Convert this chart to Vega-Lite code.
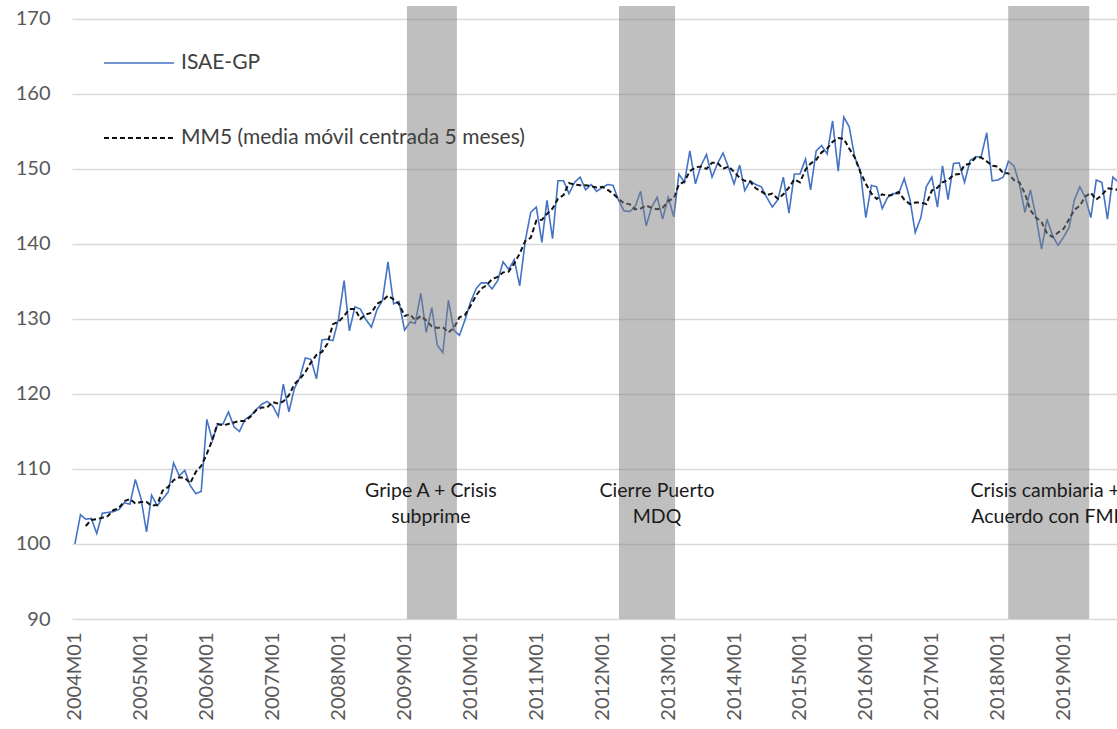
{
  "$schema": "https://vega.github.io/schema/vega-lite/v6.json",
  "width": 1045,
  "height": 613,
  "autosize": {"type": "none"},
  "padding": {"left": 72, "top": 6, "right": 0, "bottom": 110},
  "background": "white",
  "config": {
    "view": {"stroke": null},
    "font": "Lato",
    "axis": {"labelFont": "Lato"},
    "legend": {"labelFont": "Lato"}
  },
  "datasets": {
    "serie": [
      {"m":"2004-01","isae":100.0,"mm5":null},
      {"m":"2004-02","isae":103.9,"mm5":null},
      {"m":"2004-03","isae":103.3,"mm5":102.4},
      {"m":"2004-04","isae":103.4,"mm5":103.2},
      {"m":"2004-05","isae":101.4,"mm5":103.3},
      {"m":"2004-06","isae":104.1,"mm5":103.5},
      {"m":"2004-07","isae":104.2,"mm5":103.7},
      {"m":"2004-08","isae":104.3,"mm5":104.5},
      {"m":"2004-09","isae":104.6,"mm5":104.8},
      {"m":"2004-10","isae":105.5,"mm5":105.7},
      {"m":"2004-11","isae":105.3,"mm5":106.0},
      {"m":"2004-12","isae":108.6,"mm5":105.4},
      {"m":"2005-01","isae":106.1,"mm5":105.6},
      {"m":"2005-02","isae":101.6,"mm5":105.6},
      {"m":"2005-03","isae":106.5,"mm5":105.1},
      {"m":"2005-04","isae":105.1,"mm5":105.2},
      {"m":"2005-05","isae":106.0,"mm5":107.1},
      {"m":"2005-06","isae":106.9,"mm5":107.6},
      {"m":"2005-07","isae":110.8,"mm5":108.5},
      {"m":"2005-08","isae":109.1,"mm5":108.9},
      {"m":"2005-09","isae":109.8,"mm5":108.8},
      {"m":"2005-10","isae":107.8,"mm5":108.1},
      {"m":"2005-11","isae":106.7,"mm5":109.6},
      {"m":"2005-12","isae":107.0,"mm5":110.4},
      {"m":"2006-01","isae":116.6,"mm5":112.0},
      {"m":"2006-02","isae":113.8,"mm5":113.9},
      {"m":"2006-03","isae":115.9,"mm5":116.0},
      {"m":"2006-04","isae":116.0,"mm5":115.8},
      {"m":"2006-05","isae":117.6,"mm5":116.0},
      {"m":"2006-06","isae":115.6,"mm5":116.2},
      {"m":"2006-07","isae":115.0,"mm5":116.4},
      {"m":"2006-08","isae":116.6,"mm5":116.4},
      {"m":"2006-09","isae":117.1,"mm5":117.0},
      {"m":"2006-10","isae":117.9,"mm5":117.8},
      {"m":"2006-11","isae":118.6,"mm5":118.2},
      {"m":"2006-12","isae":119.0,"mm5":118.2},
      {"m":"2007-01","isae":118.4,"mm5":118.9},
      {"m":"2007-02","isae":117.0,"mm5":118.7},
      {"m":"2007-03","isae":121.3,"mm5":119.0},
      {"m":"2007-04","isae":117.6,"mm5":119.8},
      {"m":"2007-05","isae":120.7,"mm5":121.3},
      {"m":"2007-06","isae":122.2,"mm5":122.0},
      {"m":"2007-07","isae":124.8,"mm5":122.9},
      {"m":"2007-08","isae":124.6,"mm5":124.2},
      {"m":"2007-09","isae":122.0,"mm5":125.2},
      {"m":"2007-10","isae":127.2,"mm5":125.6},
      {"m":"2007-11","isae":127.3,"mm5":126.7},
      {"m":"2007-12","isae":127.1,"mm5":129.3},
      {"m":"2008-01","isae":130.0,"mm5":129.6},
      {"m":"2008-02","isae":135.1,"mm5":130.4},
      {"m":"2008-03","isae":128.4,"mm5":131.3},
      {"m":"2008-04","isae":131.6,"mm5":131.3},
      {"m":"2008-05","isae":131.3,"mm5":130.0},
      {"m":"2008-06","isae":129.9,"mm5":130.6},
      {"m":"2008-07","isae":128.9,"mm5":130.8},
      {"m":"2008-08","isae":131.2,"mm5":132.0},
      {"m":"2008-09","isae":132.5,"mm5":132.4},
      {"m":"2008-10","isae":137.6,"mm5":133.1},
      {"m":"2008-11","isae":132.0,"mm5":132.6},
      {"m":"2008-12","isae":132.3,"mm5":132.0},
      {"m":"2009-01","isae":128.5,"mm5":130.4},
      {"m":"2009-02","isae":129.6,"mm5":130.6},
      {"m":"2009-03","isae":129.4,"mm5":129.8},
      {"m":"2009-04","isae":133.4,"mm5":130.4},
      {"m":"2009-05","isae":128.2,"mm5":129.8},
      {"m":"2009-06","isae":131.5,"mm5":129.0},
      {"m":"2009-07","isae":126.5,"mm5":128.8},
      {"m":"2009-08","isae":125.5,"mm5":128.9},
      {"m":"2009-09","isae":132.5,"mm5":128.2},
      {"m":"2009-10","isae":128.5,"mm5":128.8},
      {"m":"2009-11","isae":127.8,"mm5":130.2},
      {"m":"2009-12","isae":129.8,"mm5":130.5},
      {"m":"2010-01","isae":132.2,"mm5":131.7},
      {"m":"2010-02","isae":134.0,"mm5":133.1},
      {"m":"2010-03","isae":134.8,"mm5":134.0},
      {"m":"2010-04","isae":134.8,"mm5":134.5},
      {"m":"2010-05","isae":134.0,"mm5":135.3},
      {"m":"2010-06","isae":135.1,"mm5":135.6},
      {"m":"2010-07","isae":137.6,"mm5":136.2},
      {"m":"2010-08","isae":136.6,"mm5":136.3},
      {"m":"2010-09","isae":137.9,"mm5":137.4},
      {"m":"2010-10","isae":134.4,"mm5":138.7},
      {"m":"2010-11","isae":140.4,"mm5":140.4},
      {"m":"2010-12","isae":144.2,"mm5":140.8},
      {"m":"2011-01","isae":144.9,"mm5":143.1},
      {"m":"2011-02","isae":140.2,"mm5":143.2},
      {"m":"2011-03","isae":145.8,"mm5":144.0},
      {"m":"2011-04","isae":140.7,"mm5":144.7},
      {"m":"2011-05","isae":148.4,"mm5":146.0},
      {"m":"2011-06","isae":148.4,"mm5":146.5},
      {"m":"2011-07","isae":146.7,"mm5":148.1},
      {"m":"2011-08","isae":148.2,"mm5":147.9},
      {"m":"2011-09","isae":148.9,"mm5":147.8},
      {"m":"2011-10","isae":147.2,"mm5":147.8},
      {"m":"2011-11","isae":147.9,"mm5":147.7},
      {"m":"2011-12","isae":147.0,"mm5":147.5},
      {"m":"2012-01","isae":147.5,"mm5":147.6},
      {"m":"2012-02","isae":147.9,"mm5":147.2},
      {"m":"2012-03","isae":147.8,"mm5":146.7},
      {"m":"2012-04","isae":145.8,"mm5":146.0},
      {"m":"2012-05","isae":144.4,"mm5":145.4},
      {"m":"2012-06","isae":144.3,"mm5":145.3},
      {"m":"2012-07","isae":144.9,"mm5":144.6},
      {"m":"2012-08","isae":147.0,"mm5":144.7},
      {"m":"2012-09","isae":142.4,"mm5":145.1},
      {"m":"2012-10","isae":144.9,"mm5":144.8},
      {"m":"2012-11","isae":146.2,"mm5":144.6},
      {"m":"2012-12","isae":143.3,"mm5":144.8},
      {"m":"2013-01","isae":146.2,"mm5":145.7},
      {"m":"2013-02","isae":143.6,"mm5":146.1},
      {"m":"2013-03","isae":149.3,"mm5":147.9},
      {"m":"2013-04","isae":148.2,"mm5":148.3},
      {"m":"2013-05","isae":152.4,"mm5":149.7},
      {"m":"2013-06","isae":148.0,"mm5":150.2},
      {"m":"2013-07","isae":150.4,"mm5":150.3},
      {"m":"2013-08","isae":151.9,"mm5":150.0},
      {"m":"2013-09","isae":148.9,"mm5":150.8},
      {"m":"2013-10","isae":150.7,"mm5":150.8},
      {"m":"2013-11","isae":152.1,"mm5":150.0},
      {"m":"2013-12","isae":150.2,"mm5":150.3},
      {"m":"2014-01","isae":148.0,"mm5":149.6},
      {"m":"2014-02","isae":150.5,"mm5":148.8},
      {"m":"2014-03","isae":147.1,"mm5":148.4},
      {"m":"2014-04","isae":148.4,"mm5":148.3},
      {"m":"2014-05","isae":147.9,"mm5":147.4},
      {"m":"2014-06","isae":147.6,"mm5":147.0},
      {"m":"2014-07","isae":146.2,"mm5":146.5},
      {"m":"2014-08","isae":144.9,"mm5":146.7},
      {"m":"2014-09","isae":145.9,"mm5":146.0},
      {"m":"2014-10","isae":148.9,"mm5":146.6},
      {"m":"2014-11","isae":144.1,"mm5":147.5},
      {"m":"2014-12","isae":149.3,"mm5":148.6},
      {"m":"2015-01","isae":149.3,"mm5":148.2},
      {"m":"2015-02","isae":151.3,"mm5":149.9},
      {"m":"2015-03","isae":147.2,"mm5":150.7},
      {"m":"2015-04","isae":152.4,"mm5":151.2},
      {"m":"2015-05","isae":153.1,"mm5":152.2},
      {"m":"2015-06","isae":152.0,"mm5":152.7},
      {"m":"2015-07","isae":156.4,"mm5":153.6},
      {"m":"2015-08","isae":149.7,"mm5":154.1},
      {"m":"2015-09","isae":156.9,"mm5":154.0},
      {"m":"2015-10","isae":155.6,"mm5":152.7},
      {"m":"2015-11","isae":151.5,"mm5":151.5},
      {"m":"2015-12","isae":149.8,"mm5":149.6},
      {"m":"2016-01","isae":143.5,"mm5":148.0},
      {"m":"2016-02","isae":147.8,"mm5":146.7},
      {"m":"2016-03","isae":147.6,"mm5":146.0},
      {"m":"2016-04","isae":144.7,"mm5":146.6},
      {"m":"2016-05","isae":146.2,"mm5":146.4},
      {"m":"2016-06","isae":146.7,"mm5":146.6},
      {"m":"2016-07","isae":146.7,"mm5":146.9},
      {"m":"2016-08","isae":148.7,"mm5":145.9},
      {"m":"2016-09","isae":146.0,"mm5":145.3},
      {"m":"2016-10","isae":141.5,"mm5":145.5},
      {"m":"2016-11","isae":143.5,"mm5":145.5},
      {"m":"2016-12","isae":147.6,"mm5":145.3},
      {"m":"2017-01","isae":148.9,"mm5":147.1},
      {"m":"2017-02","isae":144.9,"mm5":147.5},
      {"m":"2017-03","isae":150.4,"mm5":148.2},
      {"m":"2017-04","isae":145.9,"mm5":148.5},
      {"m":"2017-05","isae":150.7,"mm5":149.2},
      {"m":"2017-06","isae":150.8,"mm5":149.3},
      {"m":"2017-07","isae":148.2,"mm5":150.5},
      {"m":"2017-08","isae":151.1,"mm5":150.7},
      {"m":"2017-09","isae":151.6,"mm5":151.5},
      {"m":"2017-10","isae":151.6,"mm5":151.5},
      {"m":"2017-11","isae":154.8,"mm5":151.0},
      {"m":"2017-12","isae":148.4,"mm5":150.4},
      {"m":"2018-01","isae":148.5,"mm5":150.3},
      {"m":"2018-02","isae":148.9,"mm5":149.4},
      {"m":"2018-03","isae":151.0,"mm5":149.4},
      {"m":"2018-04","isae":150.4,"mm5":148.5},
      {"m":"2018-05","isae":148.0,"mm5":148.2},
      {"m":"2018-06","isae":144.2,"mm5":146.7},
      {"m":"2018-07","isae":147.2,"mm5":144.5},
      {"m":"2018-08","isae":143.6,"mm5":143.5},
      {"m":"2018-09","isae":139.3,"mm5":142.9},
      {"m":"2018-10","isae":143.3,"mm5":141.4},
      {"m":"2018-11","isae":141.1,"mm5":140.9},
      {"m":"2018-12","isae":139.8,"mm5":141.5},
      {"m":"2019-01","isae":140.9,"mm5":142.0},
      {"m":"2019-02","isae":142.2,"mm5":143.3},
      {"m":"2019-03","isae":145.8,"mm5":144.5},
      {"m":"2019-04","isae":147.6,"mm5":145.1},
      {"m":"2019-05","isae":146.2,"mm5":146.3},
      {"m":"2019-06","isae":143.5,"mm5":146.8},
      {"m":"2019-07","isae":148.5,"mm5":145.9},
      {"m":"2019-08","isae":148.2,"mm5":146.5},
      {"m":"2019-09","isae":143.3,"mm5":147.4},
      {"m":"2019-10","isae":148.9,"mm5":147.3},
      {"m":"2019-11","isae":148.2,"mm5":147.2}
    ],
    "bandas": [
      {"ini":"2009-01-14","fin":"2009-10-18"},
      {"ini":"2012-04-03","fin":"2013-02-08"},
      {"ini":"2018-02-28","fin":"2019-05-23"}
    ],
    "notas": [
      {"d":"2009-05-27","v":107.1,"t":"Gripe A + Crisis\nsubprime"},
      {"d":"2012-10-31","v":107.0,"t":"Cierre Puerto\nMDQ"},
      {"d":"2018-09-21","v":107.1,"t":"Crisis cambiaria +\nAcuerdo con FMI"}
    ]
  },
  "layer": [
    {
      "data": {"name": "serie"},
      "transform": [{"fold": ["isae", "mm5"], "as": ["s", "v"]}],
      "mark": {"type": "line", "clip": true},
      "encoding": {
        "x": {
          "field": "m", "type": "temporal", "title": null,
          "scale": {"type": "utc", "domain": [{"year": 2003, "month": 12, "date": 16, "utc": true}, {"year": 2019, "month": 10, "date": 24, "utc": true}]},
          "axis": {
            "title": null, "labelExpr": "utcFormat(datum.value, '%Y') + 'M01'",
            "tickCount": {"interval": "year", "step": 1},
            "labelAngle": 270, "labelPadding": 13, "labelFlush": false, "labelOverlap": false,
            "ticks": false, "domain": false, "grid": false,
            "labelFontSize": 20, "labelColor": "#595959"
          }
        },
        "y": {
          "field": "v", "type": "quantitative", "title": null,
          "scale": {"domain": [90, 171.7], "nice": false, "zero": false},
          "axis": {
            "title": null, "values": [90, 100, 110, 120, 130, 140, 150, 160, 170],
            "ticks": false, "domain": false, "labelPadding": 22,
            "labelFontSize": 20, "labelColor": "#595959",
            "gridColor": "#d9d9d9", "gridWidth": 1.5
          }
        },
        "color": {
          "field": "s", "type": "nominal",
          "scale": {"domain": ["isae", "mm5"], "range": ["#4472C4", "#111111"]},
          "legend": {
            "orient": "none", "legendX": 31, "legendY": 21, "direction": "vertical",
            "title": null, "symbolType": "stroke", "symbolSize": 4900, "symbolStrokeWidth": 1.8,
            "labelFontSize": 21, "labelColor": "#404040", "labelOffset": 6, "labelLimit": 0,
            "rowPadding": 29, "padding": 0,
            "labelExpr": "datum.value == 'isae' ? 'ISAE-GP' : 'MM5 (media móvil centrada 5 meses)'"
          }
        },
        "strokeDash": {
          "field": "s", "type": "nominal",
          "scale": {"domain": ["isae", "mm5"], "range": [[1, 0], [5, 3]]},
          "legend": {
            "orient": "none", "legendX": 31, "legendY": 21, "direction": "vertical",
            "title": null, "symbolType": "stroke", "symbolSize": 4900, "symbolStrokeWidth": 1.8,
            "labelFontSize": 21, "labelColor": "#404040", "labelOffset": 6, "labelLimit": 0,
            "rowPadding": 29, "padding": 0,
            "labelExpr": "datum.value == 'isae' ? 'ISAE-GP' : 'MM5 (media móvil centrada 5 meses)'"
          }
        },
        "strokeWidth": {
          "field": "s", "type": "nominal",
          "scale": {"domain": ["isae", "mm5"], "range": [1.6, 2.0]},
          "legend": null
        }
      }
    },
    {
      "data": {"name": "bandas"},
      "mark": {"type": "rect", "color": "#7f7f7f", "opacity": 0.5},
      "encoding": {
        "x": {"field": "ini", "type": "temporal", "title": null,
              "scale": {"type": "utc", "domain": [{"year": 2003, "month": 12, "date": 16, "utc": true}, {"year": 2019, "month": 10, "date": 24, "utc": true}]},
              "axis": {
                "title": null, "labelExpr": "utcFormat(datum.value, '%Y') + 'M01'",
                "tickCount": {"interval": "year", "step": 1},
                "labelAngle": 270, "labelPadding": 13, "labelFlush": false, "labelOverlap": false,
                "ticks": false, "domain": false, "grid": false,
                "labelFontSize": 20, "labelColor": "#595959"
              }},
        "x2": {"field": "fin"}
      }
    },
    {
      "data": {"name": "notas"},
      "mark": {"type": "text", "font": "Lato", "fontSize": 19.5, "lineBreak": "\n", "lineHeight": 26, "align": "center", "baseline": "middle", "color": "#1a1a1a"},
      "encoding": {
        "x": {"field": "d", "type": "temporal", "title": null,
              "scale": {"type": "utc", "domain": [{"year": 2003, "month": 12, "date": 16, "utc": true}, {"year": 2019, "month": 10, "date": 24, "utc": true}]},
              "axis": {
                "title": null, "labelExpr": "utcFormat(datum.value, '%Y') + 'M01'",
                "tickCount": {"interval": "year", "step": 1},
                "labelAngle": 270, "labelPadding": 13, "labelFlush": false, "labelOverlap": false,
                "ticks": false, "domain": false, "grid": false,
                "labelFontSize": 20, "labelColor": "#595959"
              }},
        "y": {"field": "v", "type": "quantitative", "title": null,
              "scale": {"domain": [90, 171.7], "nice": false, "zero": false},
              "axis": {
                "title": null, "values": [90, 100, 110, 120, 130, 140, 150, 160, 170],
                "ticks": false, "domain": false, "labelPadding": 22,
                "labelFontSize": 20, "labelColor": "#595959",
                "gridColor": "#d9d9d9", "gridWidth": 1.5
              }},
        "text": {"field": "t", "type": "nominal"}
      }
    }
  ]
}
